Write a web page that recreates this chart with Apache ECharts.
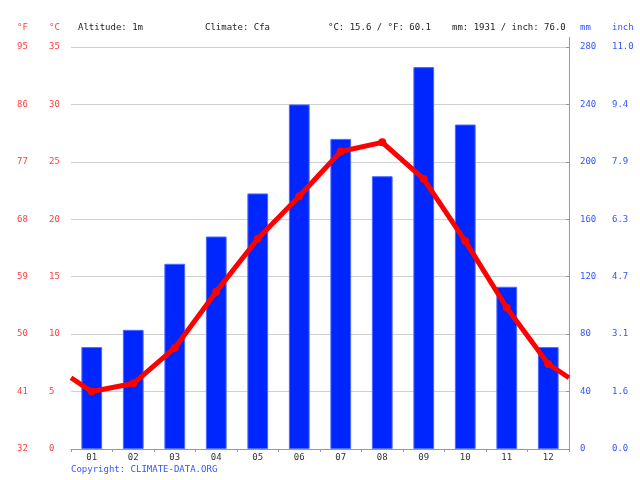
<!DOCTYPE html>
<html><head><meta charset="utf-8">
<script src="https://cdn.jsdelivr.net/npm/echarts@6/dist/echarts.min.js"></script>
<style>html,body{margin:0;padding:0;background:#fff}#c{width:640px;height:480px}</style>
</head><body><div id="c"></div>
<script>
var months = ['01','02','03','04','05','06','07','08','09','10','11','12'];
var precipMm = [71, 83, 129, 148, 178, 240, 216, 190, 266, 226, 113, 71];
var tempC = [5.0, 5.7, 8.8, 13.7, 18.3, 22.0, 25.9, 26.7, 23.5, 18.1, 12.3, 7.4];
var headerTexts = ['Altitude: 1m', 'Climate: Cfa', '°C: 15.6 / °F: 60.1', 'mm: 1931 / inch: 76.0'];
var copyright = 'Copyright: CLIMATE-DATA.ORG';

var FONT = 'DejaVu Sans Mono';
var RED = '#ff4040';
var BLUE = '#3355ff';

// line: month midpoints plus wrap-around edges (mean of Dec and Jan)
var edge = (tempC[0] + tempC[11]) / 2;
var lineData = [{value: [0, edge], symbol: 'none'}];
tempC.forEach(function (v, i) { lineData.push({value: [i + 0.5, v]}); });
lineData.push({value: [12, edge], symbol: 'none'});

var chart = echarts.init(document.getElementById('c'), null, {renderer: 'canvas'});
var lbl = {fontFamily: FONT, fontSize: 9};
chart.setOption({
  animation: false,
  grid: {left: 71, right: 71, top: 47, bottom: 31, containLabel: false},
  graphic: [
    {type: 'text', left: 17, top: 23, style: {text: '°F', fill: RED, font: '9px ' + FONT}},
    {type: 'text', left: 49, top: 23, style: {text: '°C', fill: RED, font: '9px ' + FONT}},
    {type: 'text', left: 78, top: 23, style: {text: headerTexts[0], fill: '#222', font: '9px ' + FONT}},
    {type: 'text', left: 205, top: 23, style: {text: headerTexts[1], fill: '#222', font: '9px ' + FONT}},
    {type: 'text', left: 328, top: 23, style: {text: headerTexts[2], fill: '#222', font: '9px ' + FONT}},
    {type: 'text', left: 452, top: 23, style: {text: headerTexts[3], fill: '#222', font: '9px ' + FONT}},
    {type: 'text', left: 580, top: 23, style: {text: 'mm', fill: BLUE, font: '9px ' + FONT}},
    {type: 'text', left: 612, top: 23, style: {text: 'inch', fill: BLUE, font: '9px ' + FONT}},
    {type: 'text', left: 71, top: 465, style: {text: copyright, fill: BLUE, font: '9px ' + FONT}},
    {type: 'line', shape: {x1: 569.5, y1: 37, x2: 569.5, y2: 47}, style: {stroke: '#999', lineWidth: 1}}
  ],
  xAxis: [
    {type: 'category', data: months, gridIndex: 0, boundaryGap: true,
     axisLine: {show: true, lineStyle: {color: '#999', width: 1}},
     axisTick: {show: true, alignWithLabel: false, length: 3, lineStyle: {color: '#999'}},
     axisLabel: Object.assign({color: '#333', margin: 4}, lbl),
     splitLine: {show: false}},
    {type: 'value', min: 0, max: 12, show: false, gridIndex: 0}
  ],
  yAxis: [
    {type: 'value', min: 0, max: 35, interval: 5, position: 'left',
     axisLine: {show: false}, axisTick: {show: false},
     axisLabel: Object.assign({color: RED, align: 'left', margin: 22}, lbl),
     splitLine: {show: true, lineStyle: {color: '#d0d0d0', width: 1}}},
    {type: 'value', min: 0, max: 35, interval: 5, position: 'left',
     axisLine: {show: false}, axisTick: {show: false},
     axisLabel: Object.assign({color: RED, align: 'left', margin: 54,
       formatter: function (v) { return Math.round(v * 9 / 5 + 32); }}, lbl),
     splitLine: {show: false}},
    {type: 'value', min: 0, max: 280, interval: 40, position: 'right',
     axisLine: {show: true, lineStyle: {color: '#999', width: 1}}, axisTick: {show: true, length: 3, inside: true, lineStyle: {color: '#999'}},
     axisLabel: Object.assign({color: BLUE, align: 'left', margin: 11}, lbl),
     splitLine: {show: false}},
    {type: 'value', min: 0, max: 280, interval: 40, position: 'right',
     axisLine: {show: false}, axisTick: {show: false},
     axisLabel: Object.assign({color: BLUE, align: 'left', margin: 43,
       formatter: function (v) { return (v / 25.4).toFixed(1); }}, lbl),
     splitLine: {show: false}}
  ],
  series: [
    {type: 'bar', xAxisIndex: 0, yAxisIndex: 2, data: precipMm, barWidth: '50%',
     itemStyle: {color: '#0026ff', borderColor: '#4d6bff', borderWidth: 1}},
    {type: 'line', xAxisIndex: 1, yAxisIndex: 0, data: lineData,
     symbol: 'circle', symbolSize: 8, lineStyle: {color: '#ff0000', width: 5},
     itemStyle: {color: '#ff0000'}, z: 5}
  ]
});
</script></body></html>
